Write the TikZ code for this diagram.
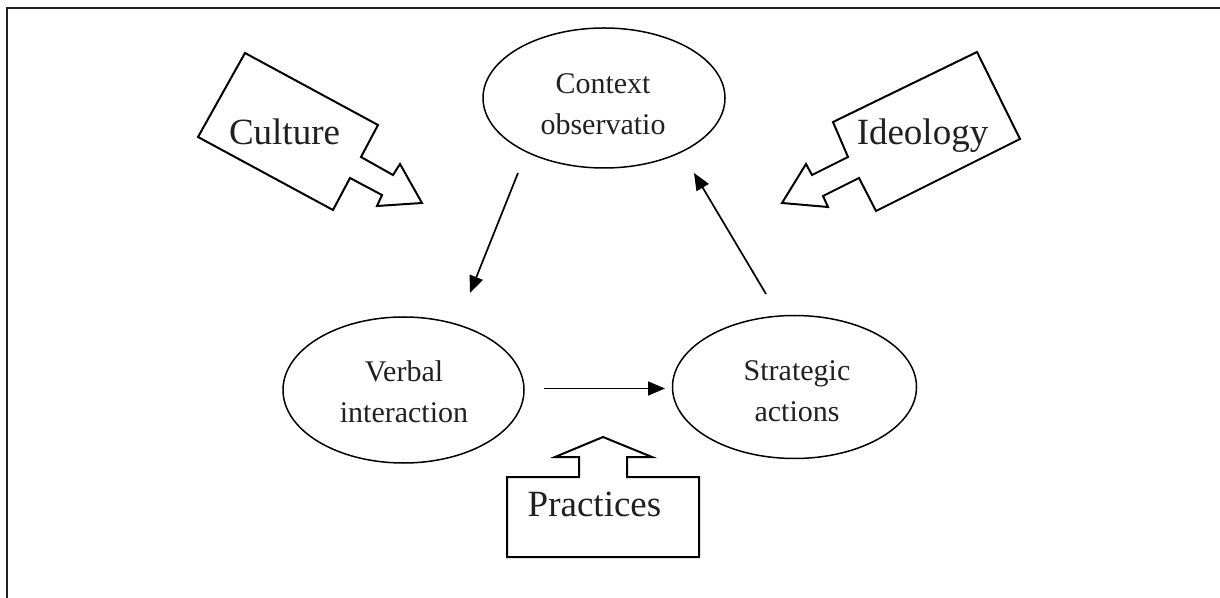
\documentclass[tikz,border=0pt]{standalone}
\usepackage{fontspec}
\setmainfont{Liberation Serif}
\usetikzlibrary{shapes.geometric,arrows.meta}
\definecolor{ink}{HTML}{231F20}
\begin{document}
\begin{tikzpicture}[x=0.5pt,y=-0.5pt,
  oval/.style={draw=black,line width=0.75pt,ellipse,inner sep=0pt},
  ovaltext/.style={text=ink,align=center,font=\fontsize{15}{20.5}\selectfont},
  bigtext/.style={text=ink,anchor=base,font=\fontsize{18.5}{22}\selectfont},
  callout/.style={draw=black,line width=1pt,line join=miter},
  arr/.style={draw=black,line width=0.85pt,-{Triangle[length=8.5pt,width=7pt]}}]
\useasboundingbox (0,0) rectangle (1220,598);
\draw[ink,line width=1.15pt] (7,598) -- (7,8) -- (1220,8);
% ellipses
\node[oval,minimum width=121pt,minimum height=70pt] (ctx) at (604,98) {};
\node[oval,minimum width=120.5pt,minimum height=73pt] (verb) at (403.5,390) {};
\node[oval,minimum width=122pt,minimum height=71.5pt] (strat) at (794.5,387) {};
\node[ovaltext] (ctxt) at (603,104) {Context\\observatio};
\node[ovaltext] (verbt) at (404,392) {Verbal\\interaction};
\node[ovaltext] (stratt) at (797,391) {Strategic\\actions};
% connectors
\coordinate (c1) at (518,173);
\coordinate (c2) at (470,293);
\coordinate (s1) at (766,294);
\coordinate (s2) at (694,173);
\coordinate (v1) at (544,388.5);
\coordinate (v2) at (665,388.5);
\draw[arr] (c1) -- (c2);
\draw[arr] (s1) -- (s2);
\draw[arr] (v1) -- (v2);
% callouts
\draw[callout] (245,53) -- (378,125) -- (361,157) -- (393,175) -- (400,164) -- (422,203) -- (377,206) -- (382,195) -- (350,178) -- (333,210) -- (198,137) -- cycle;
\draw[callout] (977,52) -- (1020,139) -- (876,211) -- (859,178) -- (823,196) -- (828,207) -- (782,203) -- (806,164) -- (812,175) -- (848,157) -- (833,122) -- cycle;
\draw[callout] (507,557) -- (699,557) -- (699,477) -- (627,477) -- (627,457) -- (652,457) -- (603,437) -- (555,457) -- (579,457) -- (579,477) -- (507,477) -- cycle;
\node[bigtext] (cult) at (284.5,145) {Culture};
\node[bigtext] (ideo) at (922.5,145) {Ideology};
\node[bigtext] (prac) at (594.5,516) {Practices};
\end{tikzpicture}
\end{document}
